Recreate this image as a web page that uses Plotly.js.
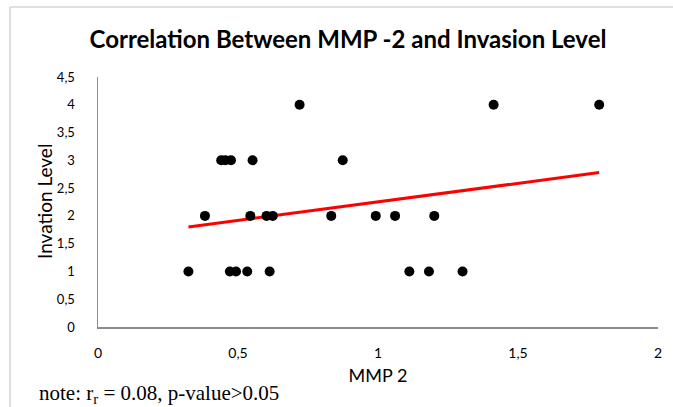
<!DOCTYPE html>
<html>
<head>
<meta charset="utf-8">
<script src="https://cdn.plot.ly/plotly-3.0.1.min.js"></script>
<style>
  html, body { margin: 0; padding: 0; background: #fff; }
  #chart { width: 673px; height: 407px; }
</style>
</head>
<body>
<div id="chart"></div>
<script>
// MMP 2 values and invasion levels
const mmp2 = [0.72, 1.413, 1.790,
              0.440, 0.455, 0.475, 0.552, 0.874,
              0.382, 0.544, 0.602, 0.624, 0.833, 0.992, 1.061, 1.201,
              0.323, 0.471, 0.493, 0.533, 0.613, 1.112, 1.182, 1.302];
const invasion = [4, 4, 4,
                  3, 3, 3, 3, 3,
                  2, 2, 2, 2, 2, 2, 2, 2,
                  1, 1, 1, 1, 1, 1, 1, 1];
// Linear trendline endpoints
const trendX = [0.323, 1.790];
const trendY = [1.80, 2.78];

const xTicks = [0, 0.5, 1, 1.5, 2];
const yTicks = [0, 0.5, 1, 1.5, 2, 2.5, 3, 3.5, 4, 4.5];

const traces = [
  {
    x: trendX, y: trendY, type: 'scatter', mode: 'lines',
    line: { color: '#ff0000', width: 3 }, hoverinfo: 'skip'
  },
  {
    x: mmp2, y: invasion, type: 'scatter', mode: 'markers',
    marker: { color: '#000000', size: 10 }
  }
];

const sans = 'Lato, "Open Sans", sans-serif';

const layout = {
  width: 673, height: 407,
  margin: { l: 98, r: 15, t: 77, b: 80 },
  paper_bgcolor: '#ffffff', plot_bgcolor: '#ffffff',
  showlegend: false,
  separators: ',.',
  title: {
    text: '<b>Correlation Between MMP -2 and Invasion Level</b>',
    font: { family: sans, size: 24, color: '#000' },
    x: 348 / 673, xanchor: 'center', xref: 'container',
    y: 1 - 40 / 407, yanchor: 'middle', yref: 'container'
  },
  xaxis: {
    range: [0, 2], tickvals: xTicks, ticks: '', showgrid: false, zeroline: false,
    showline: true, linecolor: '#8c8c8c', linewidth: 1.5,
    tickfont: { family: sans, size: 14, color: '#000' }, ticklabelstandoff: 13,
    title: { text: 'MMP 2', font: { family: sans, size: 18, color: '#000' }, standoff: 9 }
  },
  yaxis: {
    range: [0, 4.5], tickvals: yTicks, ticks: '', showgrid: false, zeroline: false,
    showline: true, linecolor: '#8c8c8c', linewidth: 1.5,
    tickfont: { family: sans, size: 13, color: '#000' }, ticklabelstandoff: 19
  },
  shapes: [
    { type: 'line', xref: 'paper', yref: 'paper',
      x0: (10 - 98) / 560, x1: (680 - 98) / 560,
      y0: 1 + (77 - 7) / 250, y1: 1 + (77 - 7) / 250,
      line: { color: '#d4d4d4', width: 1.5 } },
    { type: 'line', xref: 'paper', yref: 'paper',
      x0: (10 - 98) / 560, x1: (10 - 98) / 560,
      y0: 1 + (77 - 7) / 250, y1: -(420 - 327) / 250,
      line: { color: '#d4d4d4', width: 1.5 } }
  ],
  annotations: [
    { text: 'Invation Level', showarrow: false, textangle: -90,
      xref: 'paper', yref: 'paper',
      x: (44 - 98) / 560, xanchor: 'center',
      y: 0.5, yanchor: 'middle',
      font: { family: sans, size: 19, color: '#000' } },
    { text: 'note: r<sub>r</sub> = 0.08, p-value>0.05', showarrow: false,
      xref: 'paper', yref: 'paper',
      x: (37 - 98) / 560, xanchor: 'left',
      y: -(394 - 327) / 250, yanchor: 'middle',
      font: { family: '"Liberation Serif", "Times New Roman", serif', size: 21, color: '#000' } }
  ]
};

Plotly.newPlot('chart', traces, layout, { displayModeBar: false, staticPlot: true });
</script>
</body>
</html>
